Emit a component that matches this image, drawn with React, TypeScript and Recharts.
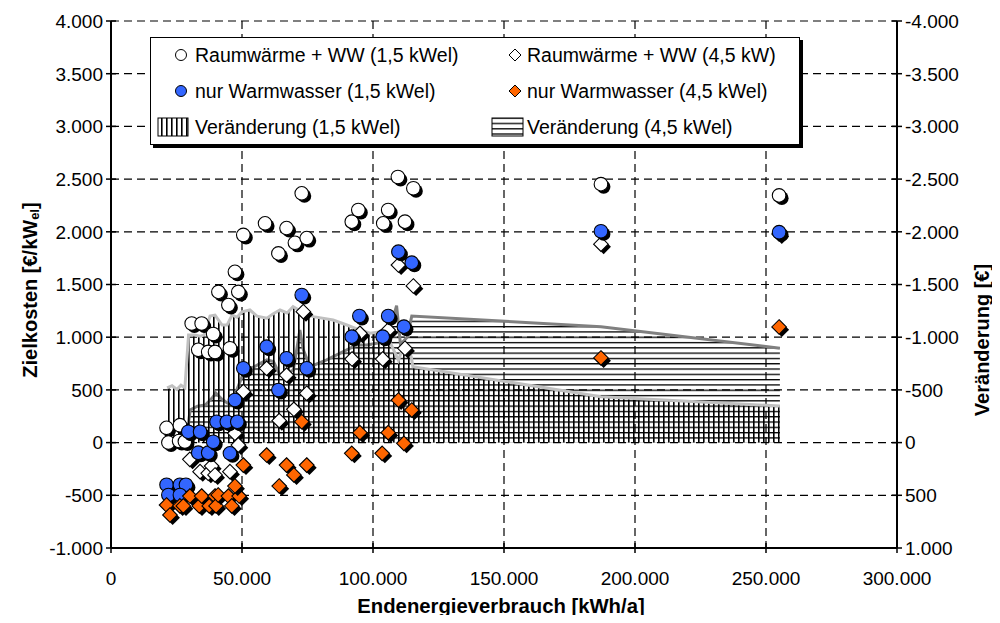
import React from 'react';
import { ComposedChart, Scatter, Area, XAxis, YAxis, CartesianGrid, Legend } from 'recharts';

// ---------- axis ticks ----------
const xTicks = [0, 50000, 100000, 150000, 200000, 250000, 300000];
const leftTicks = [-1000, -500, 0, 500, 1000, 1500, 2000, 2500, 3000, 3500, 4000];
const rightTicks = [-4000, -3500, -3000, -2500, -2000, -1500, -1000, -500, 0, 500, 1000];

// ---------- series: [Endenergieverbrauch kWh/a, Zielkosten €/kWel] ----------
const raumWW15: [number, number][] = [
  [21200, 140], [21900, 0], [26300, 165], [26000, 15], [28200, 10],
  [30800, 1130], [34600, 1130], [33300, 880], [37100, 860], [39700, 860],
  [39000, 1030], [41000, 1430], [44800, 1305], [45400, 895], [47300, 1620],
  [48600, 1430], [50500, 1970], [58800, 2080], [63900, 1795], [67000, 2035],
  [70200, 1895], [72800, 2365], [74700, 1940], [91900, 2096], [94400, 2207],
  [103900, 2080], [105800, 2207], [109500, 2520], [112200, 2096], [115400, 2413],
  [187000, 2452], [255000, 2345],
];

const raumWW45: [number, number][] = [
  [30100, -159], [34000, -276], [37100, -291], [38400, -222], [39700, -307],
  [45400, -276], [47300, 88], [48600, -23], [50500, 483], [59400, 705],
  [64200, 208], [67000, 641], [69800, 316], [73400, 1242], [74700, 468],
  [92000, 793], [95000, 1037], [103700, 793], [105800, 1068], [109700, 1685],
  [112200, 895], [115400, 1486], [187000, 1883], [255000, 1980],
];

const nurWW15: [number, number][] = [
  [21200, -400], [26300, -400], [28600, -400], [21900, -497], [26300, -497],
  [29500, 103], [34000, 103], [33300, -96], [37100, -96], [39000, 8],
  [40300, 198], [44200, 198], [48200, 198], [45400, -102], [47300, 404],
  [50500, 705], [59400, 910], [63900, 499], [67000, 800], [72800, 1400],
  [74700, 705], [91900, 1005], [94800, 1201], [103700, 1005], [105800, 1201],
  [109700, 1811], [111800, 1100], [114800, 1707], [187000, 2005], [255000, 1996],
];

const nurWW45: [number, number][] = [
  [21200, -592], [22500, -687], [26300, -601], [27600, -601], [30100, -507],
  [33700, -601], [34600, -507], [37500, -601], [39700, -507], [40100, -601],
  [40900, -497], [44800, -507], [46100, -601], [48900, -507], [47300, -412],
  [50500, -213], [59400, -118], [64200, -412], [67000, -213], [69800, -307],
  [72800, 198], [74700, -213], [91900, -102], [95000, 94], [103500, -102],
  [105800, 94], [109700, 404], [111800, -7], [114800, 309], [187000, 803],
  [255000, 1097],
];

// ---------- Veränderung [€] (right axis, reversed) ----------
const veraend15: [number, number][] = [
  [21400, -520], [23300, -540], [25200, -505], [26700, -545], [28200, -520],
  [29600, -1020], [32000, -1020], [34000, -1010], [35500, -1020], [37800, -1200],
  [39700, -1210], [42400, -1115], [44300, -1115], [46200, -1210], [48100, -1190],
  [50000, -1240], [53000, -1258], [55700, -1200], [59500, -1180], [61800, -1220],
  [64500, -1258], [67200, -1230], [69500, -1290], [72800, -1242], [77200, -1195],
  [84800, -1163], [90000, -1116], [95000, -1068], [98900, -1037], [102700, -1052],
  [106000, -980], [109700, -780], [112000, -940], [114600, -815], [115200, -720],
  [187000, -436], [255300, -347],
];

const veraend45: [number, number][] = [
  [29400, -150], [30200, -310], [33000, -345], [36000, -357], [38500, -420],
  [40000, -470], [42000, -420], [44500, -373], [46500, -380], [48000, -500],
  [50000, -625], [52000, -690], [54700, -720], [57000, -752], [59500, -784],
  [62000, -768], [64500, -640], [67000, -657], [69600, -689], [72100, -1068],
  [73400, -880], [76000, -720], [82300, -784], [90000, -879], [93800, -926],
  [97600, -926], [101400, -942], [105200, -957], [109000, -1300], [110500, -930],
  [113000, -1000], [114800, -1200], [187000, -1100], [255300, -895],
];

const legendLabels = [
  'Raumwärme + WW (1,5 kWel)',
  'Raumwärme + WW (4,5 kW)',
  'nur Warmwasser (1,5 kWel)',
  'nur Warmwasser (4,5 kWel)',
  'Veränderung (1,5 kWel)',
  'Veränderung (4,5 kWel)',
];

const FONT = '"Liberation Sans", Arial, Helvetica, sans-serif';
const BLUE = '#3366ff';
const ORANGE = '#ff6600';

const toPts = (a: [number, number][]) => a.map(([x, y]) => ({ x, y }));
const toVals = (a: [number, number][]) => a.map(([x, v]) => ({ x, v }));

const fmt = (v: number) => {
  const s = Math.abs(v).toString().replace(/\B(?=(\d{3})+(?!\d))/g, '.');
  return (v < 0 ? '-' : '') + s;
};

const R = 6.8;
const D = 7.3;
const SH = 2.7;

const circleShape = (fill: string) => (p: any) => {
  const { cx, cy } = p;
  if (cx == null || cy == null) return <g />;
  return (
    <g>
      <circle cx={cx + SH} cy={cy + SH} r={R} fill="#000" />
      <circle cx={cx} cy={cy} r={R} fill={fill} stroke="#000" strokeWidth={1.1} />
    </g>
  );
};

const diamondPath = (cx: number, cy: number, d: number) =>
  `M${cx},${cy - d}L${cx + d},${cy}L${cx},${cy + d}L${cx - d},${cy}Z`;

const diamondShape = (fill: string) => (p: any) => {
  const { cx, cy } = p;
  if (cx == null || cy == null) return <g />;
  return (
    <g>
      <path d={diamondPath(cx + SH, cy + SH, D)} fill="#000" />
      <path d={diamondPath(cx, cy, D)} fill={fill} stroke="#000" strokeWidth={1.1} />
    </g>
  );
};

const LeftTick = (p: any) => {
  const { x, y, payload } = p;
  return (
    <g>
      <line x1={x - 5} x2={x + 5} y1={y} y2={y} stroke="#000" strokeWidth={1.5} />
      <text x={x - 8} y={y} dy="0.36em" textAnchor="end" fontSize={19} fontFamily={FONT} fill="#000">
        {fmt(payload.value)}
      </text>
    </g>
  );
};

const RightTick = (p: any) => {
  const { x, y, payload } = p;
  return (
    <g>
      <line x1={x - 5} x2={x + 5} y1={y} y2={y} stroke="#000" strokeWidth={1.5} />
      <text x={x + 8} y={y} dy="0.36em" textAnchor="start" fontSize={19} fontFamily={FONT} fill="#000">
        {fmt(payload.value)}
      </text>
    </g>
  );
};

const BottomTick = (p: any) => {
  const { x, y, payload } = p;
  return (
    <g>
      <line x1={x} x2={x} y1={y - 5} y2={y + 5} stroke="#000" strokeWidth={1.5} />
      <text x={x} y={y + 37} textAnchor="middle" fontSize={19} fontFamily={FONT} fill="#000">
        {fmt(payload.value)}
      </text>
    </g>
  );
};

const LegendBox = () => {
  const text: React.CSSProperties = {
    position: 'absolute',
    fontSize: 19.5,
    fontFamily: FONT,
    lineHeight: '22px',
    whiteSpace: 'nowrap',
    color: '#000',
  };
  const rows = [18, 54, 90];
  return (
    <div
      style={{
        position: 'relative',
        width: 650,
        height: 108,
        boxSizing: 'border-box',
        border: '1px solid #000',
        background: '#fff',
        boxShadow: '3px 3px 0 #000',
      }}
    >
      <svg width={650} height={108} style={{ position: 'absolute', left: -1, top: -1 }}>
        <defs>
          <pattern id="lg-v" width="5" height="10" patternUnits="userSpaceOnUse">
            <rect x="1" y="0" width="1.6" height="10" fill="#000" />
          </pattern>
          <pattern id="lg-h" width="10" height="5.3" patternUnits="userSpaceOnUse">
            <rect x="0" y="1" width="10" height="1.3" fill="#000" />
          </pattern>
        </defs>
        <circle cx={31} cy={rows[0]} r={5.5} fill="#fff" stroke="#000" strokeWidth={1} />
        <path d={diamondPath(365, rows[0], 6)} fill="#fff" stroke="#000" strokeWidth={1} />
        <circle cx={31} cy={rows[1]} r={5.5} fill={BLUE} stroke="#000" strokeWidth={1} />
        <path d={diamondPath(365, rows[1], 6)} fill={ORANGE} stroke="#000" strokeWidth={1} />
        <rect x={8} y={81} width={30} height={18} fill="url(#lg-v)" stroke="#000" strokeWidth={1} />
        <rect x={342} y={81} width={31} height={18} fill="url(#lg-h)" stroke="#000" strokeWidth={1} />
      </svg>
      <div style={{ ...text, left: 44, top: rows[0] - 12 }}>{legendLabels[0]}</div>
      <div style={{ ...text, left: 376, top: rows[0] - 12 }}>{legendLabels[1]}</div>
      <div style={{ ...text, left: 44, top: rows[1] - 12 }}>{legendLabels[2]}</div>
      <div style={{ ...text, left: 376, top: rows[1] - 12 }}>{legendLabels[3]}</div>
      <div style={{ ...text, left: 44, top: rows[2] - 12 }}>{legendLabels[4]}</div>
      <div style={{ ...text, left: 376, top: rows[2] - 12 }}>{legendLabels[5]}</div>
    </div>
  );
};

export default function App() {
  const W = 984;
  const H = 607;
  return (
    <div style={{ position: 'relative', width: W, height: H, fontFamily: FONT }}>
      <ComposedChart width={W} height={H} margin={{ top: 13, right: 0, bottom: 0, left: 0 }}>
        <defs>
          <pattern id="vhatch" width="5" height="10" patternUnits="userSpaceOnUse">
            <rect x="0" y="0" width="1.6" height="10" fill="#000" />
          </pattern>
          <pattern id="hhatch" width="10" height="5.3" patternUnits="userSpaceOnUse">
            <rect x="0" y="0" width="10" height="1.3" fill="#000" />
          </pattern>
        </defs>
        <CartesianGrid
          yAxisId="left"
          stroke="#000"
          strokeWidth={1.2}
          strokeDasharray="8 5"
        />
        <XAxis
          type="number"
          dataKey="x"
          domain={[0, 300000]}
          ticks={xTicks}
          interval={0}
          height={67}
          tickSize={0}
          tickMargin={0}
          tickLine={false}
          axisLine={{ stroke: '#000', strokeWidth: 2 }}
          tick={<BottomTick />}
        />
        <YAxis
          yAxisId="left"
          type="number"
          dataKey="y"
          domain={[-1000, 4000]}
          ticks={leftTicks}
          interval={0}
          width={103}
          tickSize={0}
          tickMargin={0}
          tickLine={false}
          axisLine={{ stroke: '#000', strokeWidth: 2 }}
          tick={<LeftTick />}
        />
        <YAxis
          yAxisId="right"
          orientation="right"
          type="number"
          dataKey="v"
          domain={[-4000, 1000]}
          reversed
          ticks={rightTicks}
          interval={0}
          width={95}
          tickSize={0}
          tickMargin={0}
          tickLine={false}
          axisLine={{ stroke: '#000', strokeWidth: 2 }}
          tick={<RightTick />}
        />
        <Area
          data={toVals(veraend45)}
          dataKey="v"
          yAxisId="right"
          type="linear"
          baseValue={0}
          stroke="#808080"
          strokeWidth={3}
          fill="url(#hhatch)"
          fillOpacity={1}
          dot={false}
          activeDot={false}
          isAnimationActive={false}
          name={legendLabels[5]}
        />
        <Area
          data={toVals(veraend15)}
          dataKey="v"
          yAxisId="right"
          type="linear"
          baseValue={0}
          stroke="#c0c0c0"
          strokeWidth={3}
          fill="url(#vhatch)"
          fillOpacity={1}
          dot={false}
          activeDot={false}
          isAnimationActive={false}
          name={legendLabels[4]}
        />
        <Scatter
          data={toPts(raumWW15)}
          yAxisId="left"
          shape={circleShape('#fff')}
          isAnimationActive={false}
          name={legendLabels[0]}
        />
        <Scatter
          data={toPts(raumWW45)}
          yAxisId="left"
          shape={diamondShape('#fff')}
          isAnimationActive={false}
          name={legendLabels[1]}
        />
        <Scatter
          data={toPts(nurWW15)}
          yAxisId="left"
          shape={circleShape(BLUE)}
          isAnimationActive={false}
          name={legendLabels[2]}
        />
        <Scatter
          data={toPts(nurWW45)}
          yAxisId="left"
          shape={diamondShape(ORANGE)}
          isAnimationActive={false}
          name={legendLabels[3]}
        />
        <Legend
          layout="horizontal"
          verticalAlign="middle"
          align="center"
          wrapperStyle={{ position: 'absolute', left: 142, top: 29, width: 650, height: 108 }}
          content={() => <LegendBox />}
        />
      </ComposedChart>
      <svg
        width={1000}
        height={623}
        style={{ position: 'absolute', left: -8, top: -8, pointerEvents: 'none', overflow: 'visible' }}
      >
        <text
          transform="translate(30,290) rotate(-90)"
          textAnchor="middle"
          dominantBaseline="central"
          fontSize={20}
          fontWeight="bold"
          fontFamily={FONT}
        >
          Zielkosten [€/kW<tspan fontSize={13} dy={4}>el</tspan>
          <tspan dy={-4}>]</tspan>
        </text>
        <text
          transform="translate(982,340) rotate(-90)"
          textAnchor="middle"
          dominantBaseline="central"
          fontSize={20}
          fontWeight="bold"
          fontFamily={FONT}
        >
          Veränderung [€]
        </text>
        <text
          x={501}
          y={613}
          textAnchor="middle"
          fontSize={20.3}
          fontWeight="bold"
          fontFamily={FONT}
        >
          Endenergieverbrauch [kWh/a]
        </text>
      </svg>
    </div>
  );
}
